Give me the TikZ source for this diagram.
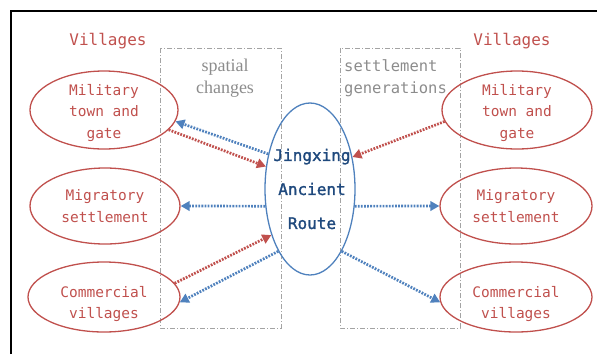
\documentclass[tikz,border=0pt]{standalone}
\usepackage{fontspec}
\setmainfont{Liberation Serif}
\newfontfamily\vmono{DejaVu Sans Mono}
\newfontfamily\vmonogras[FakeBold=1.5]{DejaVu Sans Mono}
\usetikzlibrary{shapes.geometric,arrows.meta}
\definecolor{vrouge}{HTML}{C0504D}
\definecolor{vbleu}{HTML}{4F81BD}
\definecolor{vbleufonce}{HTML}{1F497D}
\definecolor{vgris}{HTML}{8C8C8C}

\begin{document}
\begin{tikzpicture}[x=1pt,y=-1pt,
  village/.style={ellipse,draw=vrouge,line width=1.3pt,inner sep=0pt,minimum width=148pt,minimum height=78pt},
  vtexte/.style={text=vrouge,align=center,inner sep=0pt,font=\vmono\fontsize{14.5}{21.5}\selectfont},
  fleche/.style={line width=2.7pt,dash pattern=on 1.8pt off 1.3pt,-{Triangle[length=9pt,width=9.5pt]}},
  cadre/.style={vgris!80,line width=0.8pt,dash pattern=on 5pt off 2pt on 1pt off 2pt}]
  \useasboundingbox (0,0) rectangle (597,354);
  % Cadre
  \draw[line width=1.2pt] (11,354) -- (11,11) -- (597,11);
  % Zones en pointilles
  \draw[cadre] (160,48) rectangle (281,328);
  \draw[cadre] (340,48) rectangle (460,328);
  \node[vgris,align=center,font=\fontsize{18}{22}\selectfont] (spatial) at (225,78){spatial\\changes};
  \node[vgris,align=left,anchor=west,inner sep=0pt,font=\vmono\fontsize{15.5}{22}\selectfont] (gener) at (344,78){settlement\\generations};
  % Titres
  \node[vtexte,font=\vmono\fontsize{16}{20}\selectfont] (titreG) at (108,41){Villages};
  \node[vtexte,font=\vmono\fontsize{16}{20}\selectfont] (titreD) at (512,41){Villages};
  % Villages a gauche
  \node[village] (milG) at (104,110){};
  \node[vtexte] (milGt) at (104,113){Military\\town and\\gate};
  \node[village,minimum height=76pt,minimum width=150pt] (migG) at (105,206){};
  \node[vtexte] (migGt) at (migG.center){Migratory\\settlement};
  \node[village,minimum height=70pt,minimum width=152pt] (comG) at (104,297){};
  \node[vtexte] (comGt) at (104,304){Commercial\\villages};
  % Villages a droite
  \node[village,minimum width=150pt] (milD) at (517,110){};
  \node[vtexte] (milDt) at (517,113){Military\\town and\\gate};
  \node[village,minimum height=76pt,minimum width=152pt] (migD) at (516,206){};
  \node[vtexte] (migDt) at (migD.center){Migratory\\settlement};
  \node[village,minimum height=70pt,minimum width=152pt] (comD) at (516,297){};
  \node[vtexte] (comDt) at (516,304){Commercial\\villages};
  % Route ancienne
  \node[ellipse,draw=vbleu,line width=1.3pt,inner sep=0pt,minimum width=90pt,minimum height=172pt] (route) at (310,189){};
  \node[text=vbleufonce,align=center,inner sep=0pt,font=\vmonogras\fontsize{16}{34}\selectfont] (routet) at (312,189){Jingxing\\Ancient\\Route};
  % Liaisons
  \draw[fleche,vbleu] (route.140) -- (milG.-9);
  \draw[fleche,vrouge] (milG.-17) -- (route.153);
  \draw[fleche,vbleu] (route.201) -- (migG.east);
  \draw[fleche,vrouge] (comG.11) -- (route.230);
  \draw[fleche,vbleu] (route.243) -- (comG.-4);
  \draw[fleche,vrouge] (milD.189) -- (route.37);
  \draw[fleche,vbleu] (route.339) -- (migD.west);
  \draw[fleche,vbleu] (route.297) -- (comD.184);
\end{tikzpicture}
\end{document}
